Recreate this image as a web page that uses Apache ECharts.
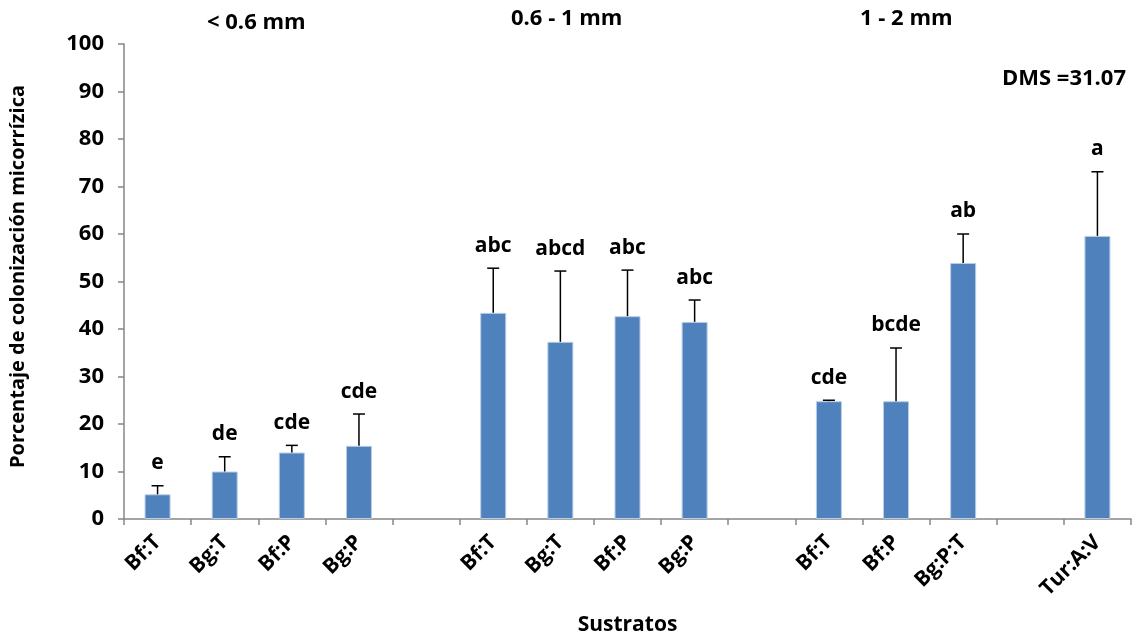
<!DOCTYPE html>
<html>
<head>
<meta charset="utf-8">
<script src="https://cdn.jsdelivr.net/npm/echarts@6/dist/echarts.min.js"></script>
<style>
  html, body { margin: 0; padding: 0; background: #fff; }
  #chart { width: 1140px; height: 635px; }
</style>
</head>
<body>
<div id="chart"></div>
<script>
// categories, empty strings are the gaps between size groups
const categories = ['Bf:T', 'Bg:T', 'Bf:P', 'Bg:P', '', 'Bf:T', 'Bg:T', 'Bf:P', 'Bg:P', '', 'Bf:T', 'Bf:P', 'Bg:P:T', '', 'Tur:A:V']
const means = [5.2, 10.0, 14.0, 15.4, null, 43.4, 37.3, 42.7, 41.5, null, 24.8, 24.8, 53.9, null, 59.6]
const upper = [7.0, 13.1, 15.5, 22.1, null, 52.8, 52.2, 52.4, 46.1, null, 25.0, 36.0, 60.0, null, 73.1]
const letters = ['e', 'de', 'cde', 'cde', '', 'abc', 'abcd', 'abc', 'abc', '', 'cde', 'bcde', 'ab', '', 'a']
const groupTitles = ['< 0.6 mm', '0.6 - 1 mm', '1 - 2 mm']
const yTicks = [0, 10, 20, 30, 40, 50, 60, 70, 80, 90, 100]

const FONT = '"Open Sans", Lato, sans-serif'
const chart = echarts.init(document.getElementById('chart'))

const errData = categories.map((c, i) => [i, means[i], upper[i], letters[i]]).filter(d => d[1] !== null)

const option = {
  animation: false,
  textStyle: { fontFamily: FONT },
  grid: { left: 124, right: 9, top: 44, bottom: 116, outerBoundsMode: 'none' },
  xAxis: {
    type: 'category',
    data: categories,
    name: 'Sustratos',
    nameLocation: 'middle',
    nameGap: 96,
    nameTextStyle: { fontSize: 21, fontWeight: 'bold', color: '#000', fontFamily: FONT },
    axisLine: { lineStyle: { color: '#868686', width: 1.5 } },
    axisTick: { show: true, length: 6, interval: 0, lineStyle: { color: '#868686', width: 1.5 } },
    axisLabel: { interval: 0, rotate: 45, fontSize: 21, fontWeight: 'bold', color: '#000', margin: 20, fontFamily: FONT }
  },
  yAxis: {
    type: 'value',
    min: yTicks[0],
    max: yTicks[yTicks.length - 1],
    interval: 10,
    name: 'Porcentaje de colonización micorrízica',
    nameLocation: 'middle',
    nameGap: 96,
    nameTextStyle: { fontSize: 20, fontWeight: 'bold', color: '#000', fontFamily: FONT, padding: [0, 0, 0, 10] },
    axisLine: { show: true, lineStyle: { color: '#868686', width: 1.5 } },
    axisTick: { show: true, length: 6, lineStyle: { color: '#868686', width: 1.5 } },
    splitLine: { show: false },
    axisLabel: { fontSize: 22, fontWeight: 'bold', color: '#000', margin: 20, fontFamily: FONT }
  },
  series: [
    {
      type: 'bar',
      data: means,
      barWidth: 26,
      itemStyle: { color: '#4f81bd', borderColor: '#b9cde5', borderWidth: 1 }
    },
    {
      type: 'custom',
      data: errData,
      z: 5,
      renderItem: (params, api) => {
        const base = api.coord([api.value(0), api.value(1)])
        const top = api.coord([api.value(0), api.value(2)])
        const letter = errData[params.dataIndex][3]
        return {
          type: 'group',
          children: [
            { type: 'line', shape: { x1: base[0], y1: base[1], x2: top[0], y2: top[1] }, style: { stroke: '#000', lineWidth: 1.5 } },
            { type: 'line', shape: { x1: top[0] - 6, y1: top[1], x2: top[0] + 6, y2: top[1] }, style: { stroke: '#000', lineWidth: 1.5 } },
            {
              type: 'text',
              x: top[0],
              y: top[1] - 12,
              style: { text: letter, fontSize: 21, fontWeight: 'bold', fill: '#000', align: 'center', verticalAlign: 'bottom', fontFamily: FONT }
            }
          ]
        }
      }
    }
  ],
  graphic: [
    { type: 'text', left: 207, top: 12, style: { text: groupTitles[0], fontSize: 22, fontWeight: 'bold', fill: '#000', fontFamily: FONT } },
    { type: 'text', left: 511, top: 8, style: { text: groupTitles[1], fontSize: 22, fontWeight: 'bold', fill: '#000', fontFamily: FONT } },
    { type: 'text', left: 860, top: 8, style: { text: groupTitles[2], fontSize: 22, fontWeight: 'bold', fill: '#000', fontFamily: FONT } },
    { type: 'text', left: 1002, top: 68, style: { text: 'DMS =31.07', fontSize: 22, fontWeight: 'bold', fill: '#000', fontFamily: FONT } }
  ]
}

chart.setOption(option)
</script>
</body>
</html>
